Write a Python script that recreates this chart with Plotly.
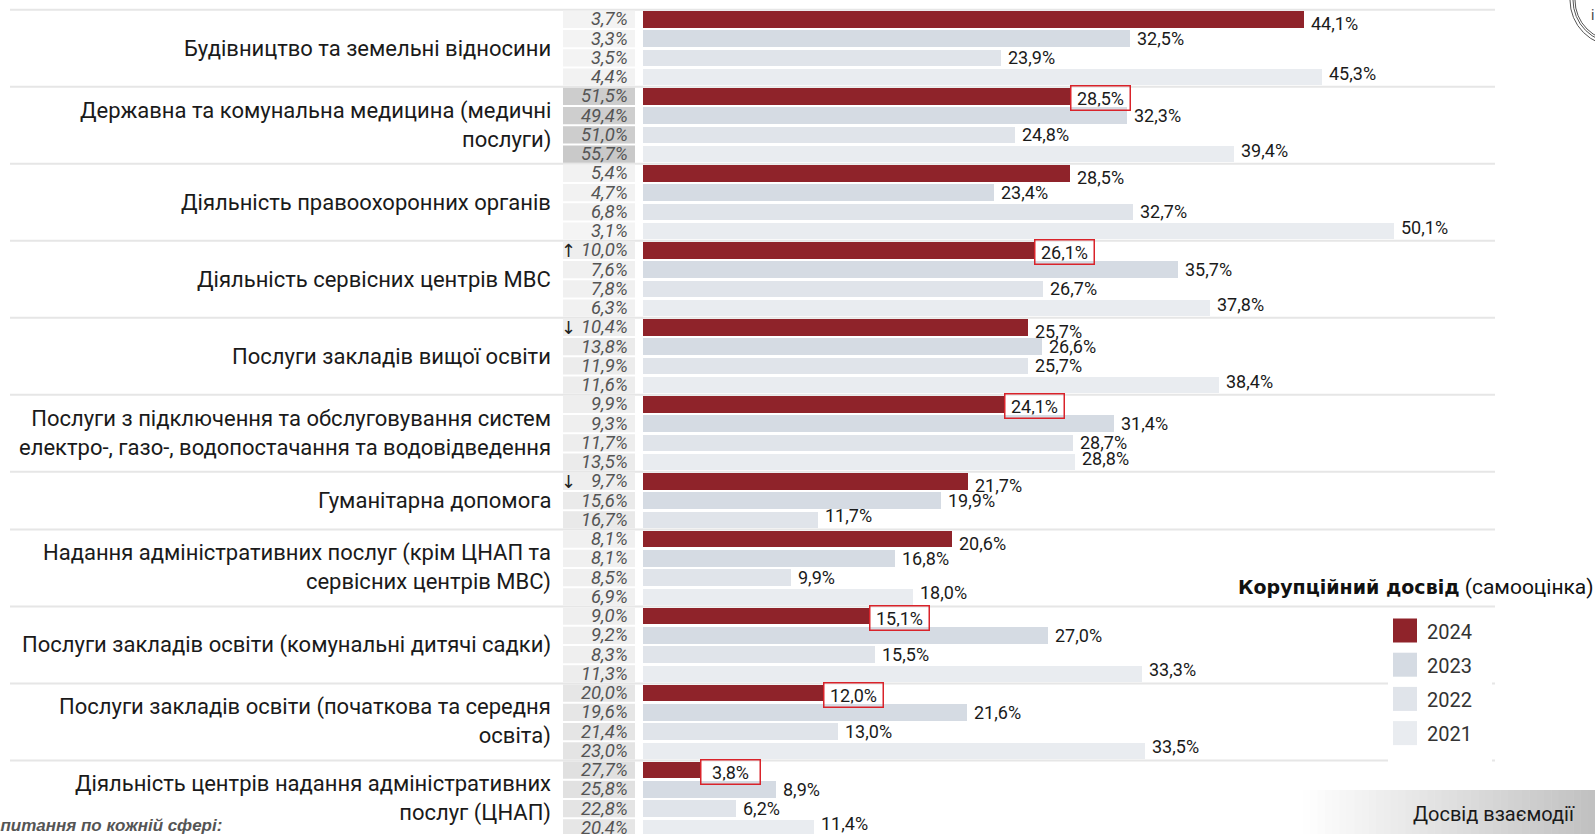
import plotly.graph_objects as go

categories = [
    "Будівництво та земельні відносини",
    "Державна та комунальна медицина (медичні<br>послуги)",
    "Діяльність правоохоронних органів",
    "Діяльність сервісних центрів МВС",
    "Послуги закладів вищої освіти",
    "Послуги з підключення та обслуговування систем<br>електро-, газо-, водопостачання та водовідведення",
    "Гуманітарна допомога",
    "Надання адміністративних послуг (крім ЦНАП та<br>сервісних центрів МВС)",
    "Послуги закладів освіти (комунальні дитячі садки)",
    "Послуги закладів освіти (початкова та середня<br>освіта)",
    "Діяльність центрів надання адміністративних<br>послуг (ЦНАП)",
]
years = ["2024", "2023", "2022", "2021"]

# Corruption experience (self-assessment), %
corr_2024 = [44.1, 28.5, 28.5, 26.1, 25.7, 24.1, 21.7, 20.6, 15.1, 12.0, 3.8]
corr_2023 = [32.5, 32.3, 23.4, 35.7, 26.6, 31.4, 19.9, 16.8, 27.0, 21.6, 8.9]
corr_2022 = [23.9, 24.8, 32.7, 26.7, 25.7, 28.7, 11.7, 9.9, 15.5, 13.0, 6.2]
corr_2021 = [45.3, 39.4, 50.1, 37.8, 38.4, 28.8, None, 18.0, 33.3, 33.5, 11.4]

# Interaction experience, %
inter_2024 = [3.7, 51.5, 5.4, 10.0, 10.4, 9.9, 9.7, 8.1, 9.0, 20.0, 27.7]
inter_2023 = [3.3, 49.4, 4.7, 7.6, 13.8, 9.3, 15.6, 8.1, 9.2, 19.6, 25.8]
inter_2022 = [3.5, 51.0, 6.8, 7.8, 11.9, 11.7, 16.7, 8.5, 8.3, 21.4, 22.8]
inter_2021 = [4.4, 55.7, 3.1, 6.3, 11.6, 13.5, None, 6.9, 11.3, 23.0, 20.4]

trend_2024 = ["", "", "", "↑", "↓", "", "↓", "", "", "", ""]
highlight_2024 = [False, True, False, True, False, True, False, False, True, True, True]

legend_title = ('<span style="font-family:\'DejaVu Sans\';font-weight:bold;font-size:19px">'
                'Корупційний досвід</span> (самооцінка)')
button_text = "Досвід взаємодії"
footnote_text = "Запитання по кожній сфері:"

colors = ["#8f232a", "#d5dbe3", "#e0e4ea", "#e9ecf0"]
corr = [corr_2024, corr_2023, corr_2022, corr_2021]
inter = [inter_2024, inter_2023, inter_2022, inter_2021]

W, H = 1595, 834
X0_PX, PX_PER = 642.9, 14.99
ROW0, ROW_H = 19.3, 19.25
xrange = [-X0_PX / PX_PER, (W - X0_PX) / PX_PER]
yrange = [(H - ROW0) / ROW_H, -ROW0 / ROW_H]


def px_x(p):
    return p / W


def px_y(p):
    return 1 - p / H


def fmt(v):
    return f"{v:.1f}".replace(".", ",") + "%"


# assign row positions
rows = []
group_rows = []
r = 0
for g in range(len(categories)):
    rs = []
    for k in range(4):
        if corr[k][g] is None:
            continue
        rows.append((g, k, r))
        rs.append(r)
        r += 1
    group_rows.append(rs)

fig = go.Figure()
for k in range(4):
    xs = [corr[k][g] for (g, kk, rr) in rows if kk == k]
    ys = [rr for (g, kk, rr) in rows if kk == k]
    fig.add_trace(go.Bar(
        x=xs, y=ys, orientation="h", width=0.86,
        marker=dict(color=colors[k], line=dict(width=0)),
        name=years[k], hoverinfo="skip", showlegend=False,
    ))

shapes = []
annotations = []

# separators
for rs in group_rows:
    shapes.append(dict(type="line", xref="paper", yref="y",
                       x0=px_x(10), x1=px_x(1495), y0=rs[0] - 0.5, y1=rs[0] - 0.5,
                       line=dict(color="#e6e6e6", width=2), layer="below"))

for (g, k, rr) in rows:
    rs = group_rows[g]
    # interaction cell
    iv = inter[k][g]
    grey = int(round(246 - 0.8 * iv))
    shapes.append(dict(type="rect", xref="paper", yref="y",
                       x0=px_x(563), x1=px_x(635), y0=rr - 0.45, y1=rr + 0.45,
                       fillcolor=f"rgb({grey},{grey},{grey})", line=dict(width=0), layer="below"))
    annotations.append(dict(xref="paper", yref="y", x=px_x(630), y=rr, xanchor="right",
                            text=f"<i>{fmt(iv)}</i>", showarrow=False,
                            font=dict(family="Roboto", size=18.5, color="#555555")))
    if k == 0 and trend_2024[g]:
        annotations.append(dict(xref="paper", yref="y", x=px_x(559), y=rr, xanchor="left",
                                text=trend_2024[g], showarrow=False,
                                font=dict(family="DejaVu Sans", size=18, color="#222222")))
    # value label
    v = corr[k][g]
    ysh = 0
    if len(rs) > 1 and rr == rs[0]:
        ysh = -4
    elif len(rs) > 1 and rr == rs[-1]:
        ysh = 4
    if k == 0 and highlight_2024[g]:
        annotations.append(dict(xref="x", yref="y", x=v, y=rr, xanchor="left", yshift=-2,
                                text=fmt(v), showarrow=False, width=52, height=17,
                                borderpad=3, borderwidth=1.5, bordercolor="#d9232a",
                                bgcolor="rgba(255,255,255,0)", align="center",
                                font=dict(family="Roboto", size=18, color="#1a1a1a")))
    else:
        annotations.append(dict(xref="x", yref="y", x=v, y=rr, xanchor="left", xshift=5,
                                yshift=ysh, text=fmt(v), showarrow=False,
                                font=dict(family="Roboto", size=18, color="#1a1a1a")))

# category labels
for g, cat in enumerate(categories):
    rs = group_rows[g]
    annotations.append(dict(xref="paper", yref="y", x=px_x(553), y=(rs[0] + rs[-1]) / 2,
                            xanchor="right", align="right", text=cat, showarrow=False,
                            font=dict(family="Roboto", size=22, color="#1a1a1a")))

# legend box
shapes.append(dict(type="rect", xref="paper", yref="paper", x0=px_x(1388), x1=px_x(1492),
                   y0=px_y(765), y1=px_y(611), fillcolor="white", line=dict(width=0), layer="above"))
for k in range(4):
    top = 618.5 + k * 34.2
    shapes.append(dict(type="rect", xref="paper", yref="paper", x0=px_x(1393), x1=px_x(1417),
                       y0=px_y(top + 24), y1=px_y(top), fillcolor=colors[k],
                       line=dict(width=0), layer="above"))
    annotations.append(dict(xref="paper", yref="paper", x=px_x(1425), y=px_y(top + 13),
                            xanchor="left", yanchor="middle", text=years[k], showarrow=False,
                            font=dict(family="Roboto", size=20, color="#333333")))
annotations.append(dict(xref="paper", yref="paper", x=px_x(1596), y=px_y(587),
                        xanchor="right", yanchor="middle", text=legend_title, showarrow=False,
                        font=dict(family="Roboto", size=21, color="#111111")))

# bottom-right button with gradient
n = 40
for i in range(n):
    xa = 1303 + (W - 1303) * i / n
    xb = 1303 + (W - 1303) * (i + 1) / n
    c = int(round(255 - (255 - 192) * (i + 0.5) / n))
    shapes.append(dict(type="rect", xref="paper", yref="paper", x0=px_x(xa), x1=px_x(xb + 0.5),
                       y0=0, y1=px_y(790), fillcolor=f"rgb({c},{c},{c})",
                       line=dict(width=0), layer="above"))
annotations.append(dict(xref="paper", yref="paper", x=px_x(1577), y=px_y(814),
                        xanchor="right", yanchor="middle", text=button_text, showarrow=False,
                        font=dict(family="Roboto", size=20, color="#1a1a1a")))

# bottom-left cut text
annotations.append(dict(xref="paper", yref="paper", x=px_x(224), y=px_y(825),
                        xanchor="right", yanchor="middle", text=f"<b><i>{footnote_text}</i></b>",
                        showarrow=False,
                        font=dict(family="Liberation Sans", size=17, color="#555555")))

# logo top-right
for rad in (46, 43, 41):
    shapes.append(dict(type="circle", xref="paper", yref="paper",
                       x0=px_x(1616 - rad), x1=px_x(1616 + rad),
                       y0=px_y(0 + rad), y1=px_y(0 - rad),
                       line=dict(color="#555555", width=1), layer="above"))
annotations.append(dict(xref="paper", yref="paper", x=px_x(1592), y=px_y(15),
                        xanchor="center", yanchor="middle", text="i", showarrow=False,
                        font=dict(family="Roboto", size=14, color="#444444")))

fig.update_layout(
    width=W, height=H, margin=dict(l=0, r=0, t=0, b=0),
    paper_bgcolor="white", plot_bgcolor="white",
    xaxis=dict(range=xrange, visible=False, fixedrange=True),
    yaxis=dict(range=yrange, visible=False, fixedrange=True),
    barmode="overlay", bargap=0, shapes=shapes, annotations=annotations,
    showlegend=False,
)
fig.write_html("out.html", config={"displayModeBar": False},
               post_script="document.body.style.margin='0';document.body.style.overflow='hidden';")
